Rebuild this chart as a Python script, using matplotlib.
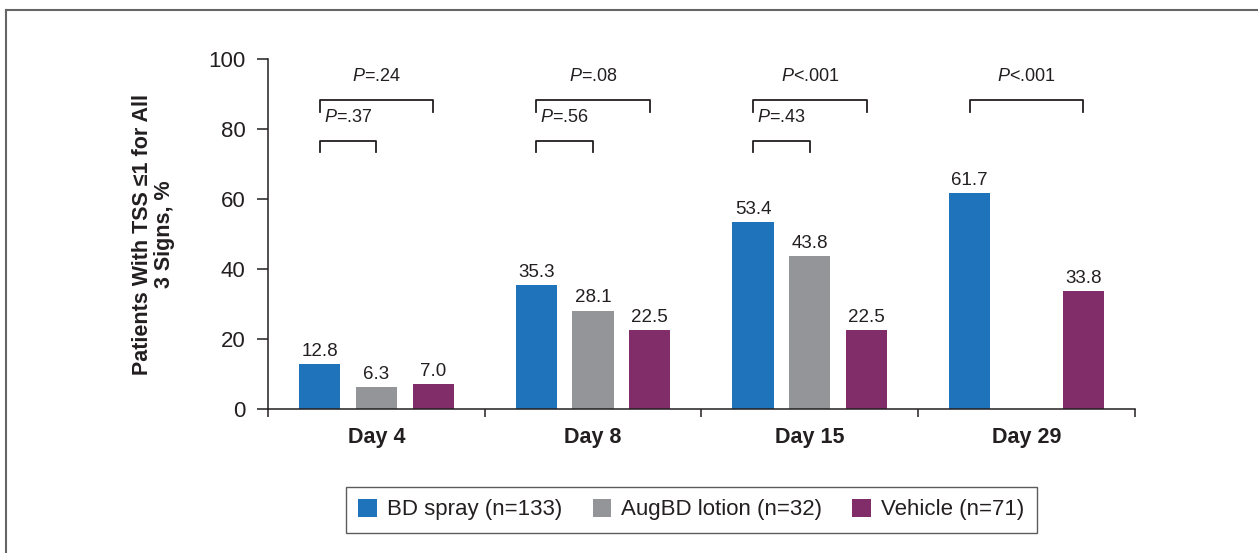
import numpy as np
import matplotlib.pyplot as plt
from matplotlib.lines import Line2D

plt.rcParams['font.family'] = ['Liberation Sans', 'DejaVu Sans']
plt.rcParams['mathtext.fontset'] = 'custom'
plt.rcParams['mathtext.it'] = 'Liberation Sans:italic'
plt.rcParams['mathtext.rm'] = 'Liberation Sans'

# dados
dias = ["Day 4", "Day 8", "Day 15", "Day 29"]
series = ["BD spray (n=133)", "AugBD lotion (n=32)", "Vehicle (n=71)"]
bd_spray = [12.8, 35.3, 53.4, 61.7]
augbd = [6.3, 28.1, 43.8, None]
vehicle = [7.0, 22.5, 22.5, 33.8]
cores = ["#1f73bb", "#939598", "#802d69"]

# P-valores (colchete largo: BD x Vehicle, curto: BD x AugBD)
p_wide = [".24", ".08", "<.001", "<.001"]
p_narrow = [".37", ".56", ".43", None]
nivel_wide = 88.3
nivel_narrow = 76.6

fig = plt.figure(figsize=(12.58, 5.53), dpi=100)
ax = fig.add_axes([0.2130, 0.2604, 0.6892, 0.6329])

x = np.arange(len(dias))
largura = 0.19
passo = 0.262
offsets = [-passo, 0, passo]
txt = "#231f20"

for i, (vals, cor, nome) in enumerate(zip([bd_spray, augbd, vehicle], cores, series)):
    xs = [xi + offsets[i] for xi, v in zip(x, vals) if v is not None]
    ys = [v for v in vals if v is not None]
    barras = ax.bar(xs, ys, width=largura, color=cor, label=nome)
    for b, v in zip(barras, ys):
        ax.annotate(f"{v:.1f}", (b.get_x() + b.get_width() / 2, v),
                    xytext=(0, 3), textcoords="offset points",
                    ha="center", va="bottom", fontsize=13.5, color=txt)

# colchetes
def colchete(x0, x1, y, texto):
    ax.plot([x0, x0, x1, x1], [y - 3.3, y, y, y - 3.3], color=txt, lw=1.3,
            clip_on=False)
    ax.text((x0 + x1) / 2, y + 4.3, texto, ha="center", va="bottom",
            fontsize=13, color=txt)

def ptxt(s):
    return r"$P$" + ("=" if not s.startswith("<") else "") + s

for i in range(len(dias)):
    if p_wide[i] is not None:
        colchete(x[i] + offsets[0], x[i] + offsets[2], nivel_wide, ptxt(p_wide[i]))
    if p_narrow[i] is not None:
        colchete(x[i] + offsets[0], x[i] + offsets[1], nivel_narrow, ptxt(p_narrow[i]))

ax.set_xlim(-0.5, len(dias) - 0.5)
ax.set_ylim(0, 100)
ax.set_yticks(range(0, 101, 20))
ax.tick_params(axis="y", direction="out", length=8, width=1.1, pad=8,
               labelsize=16, colors=txt)

ax.set_xticks(np.arange(-0.5, len(dias), 1.0))
ax.set_xticklabels([])
ax.tick_params(axis="x", which="major", direction="out", length=6, width=1.1, color=txt)
ax.set_xticks(x, minor=True)
ax.set_xticklabels(dias, minor=True, fontsize=15.5, fontweight="bold", color=txt)
ax.tick_params(axis="x", which="minor", length=0, pad=13)

for s in ["top", "right"]:
    ax.spines[s].set_visible(False)
for s in ["left", "bottom"]:
    ax.spines[s].set_linewidth(1.1)
    ax.spines[s].set_color(txt)

ax.set_ylabel("Patients With TSS \u22641 for All\n3 Signs, %", fontsize=15.5,
              fontweight="bold", color=txt, labelpad=24, linespacing=1.1)

leg = ax.legend(loc="upper center", bbox_to_anchor=(0.4885, -0.222), ncol=3,
                frameon=True, fancybox=False, fontsize=16, handlelength=0.85,
                handleheight=0.85, handletextpad=0.45, columnspacing=1.35,
                borderpad=0.55, borderaxespad=0)
leg.get_frame().set_edgecolor("#333333")
leg.get_frame().set_linewidth(1.0)
for t in leg.get_texts():
    t.set_color(txt)

# moldura da figura
fig.add_artist(Line2D([6 / 1258, 1], [1 - 10 / 553, 1 - 10 / 553],
                      transform=fig.transFigure, color="#666666", lw=1.5))
fig.add_artist(Line2D([6 / 1258, 6 / 1258], [0, 1 - 10 / 553],
                      transform=fig.transFigure, color="#666666", lw=1.5))

fig.savefig("out.png", dpi=100)
